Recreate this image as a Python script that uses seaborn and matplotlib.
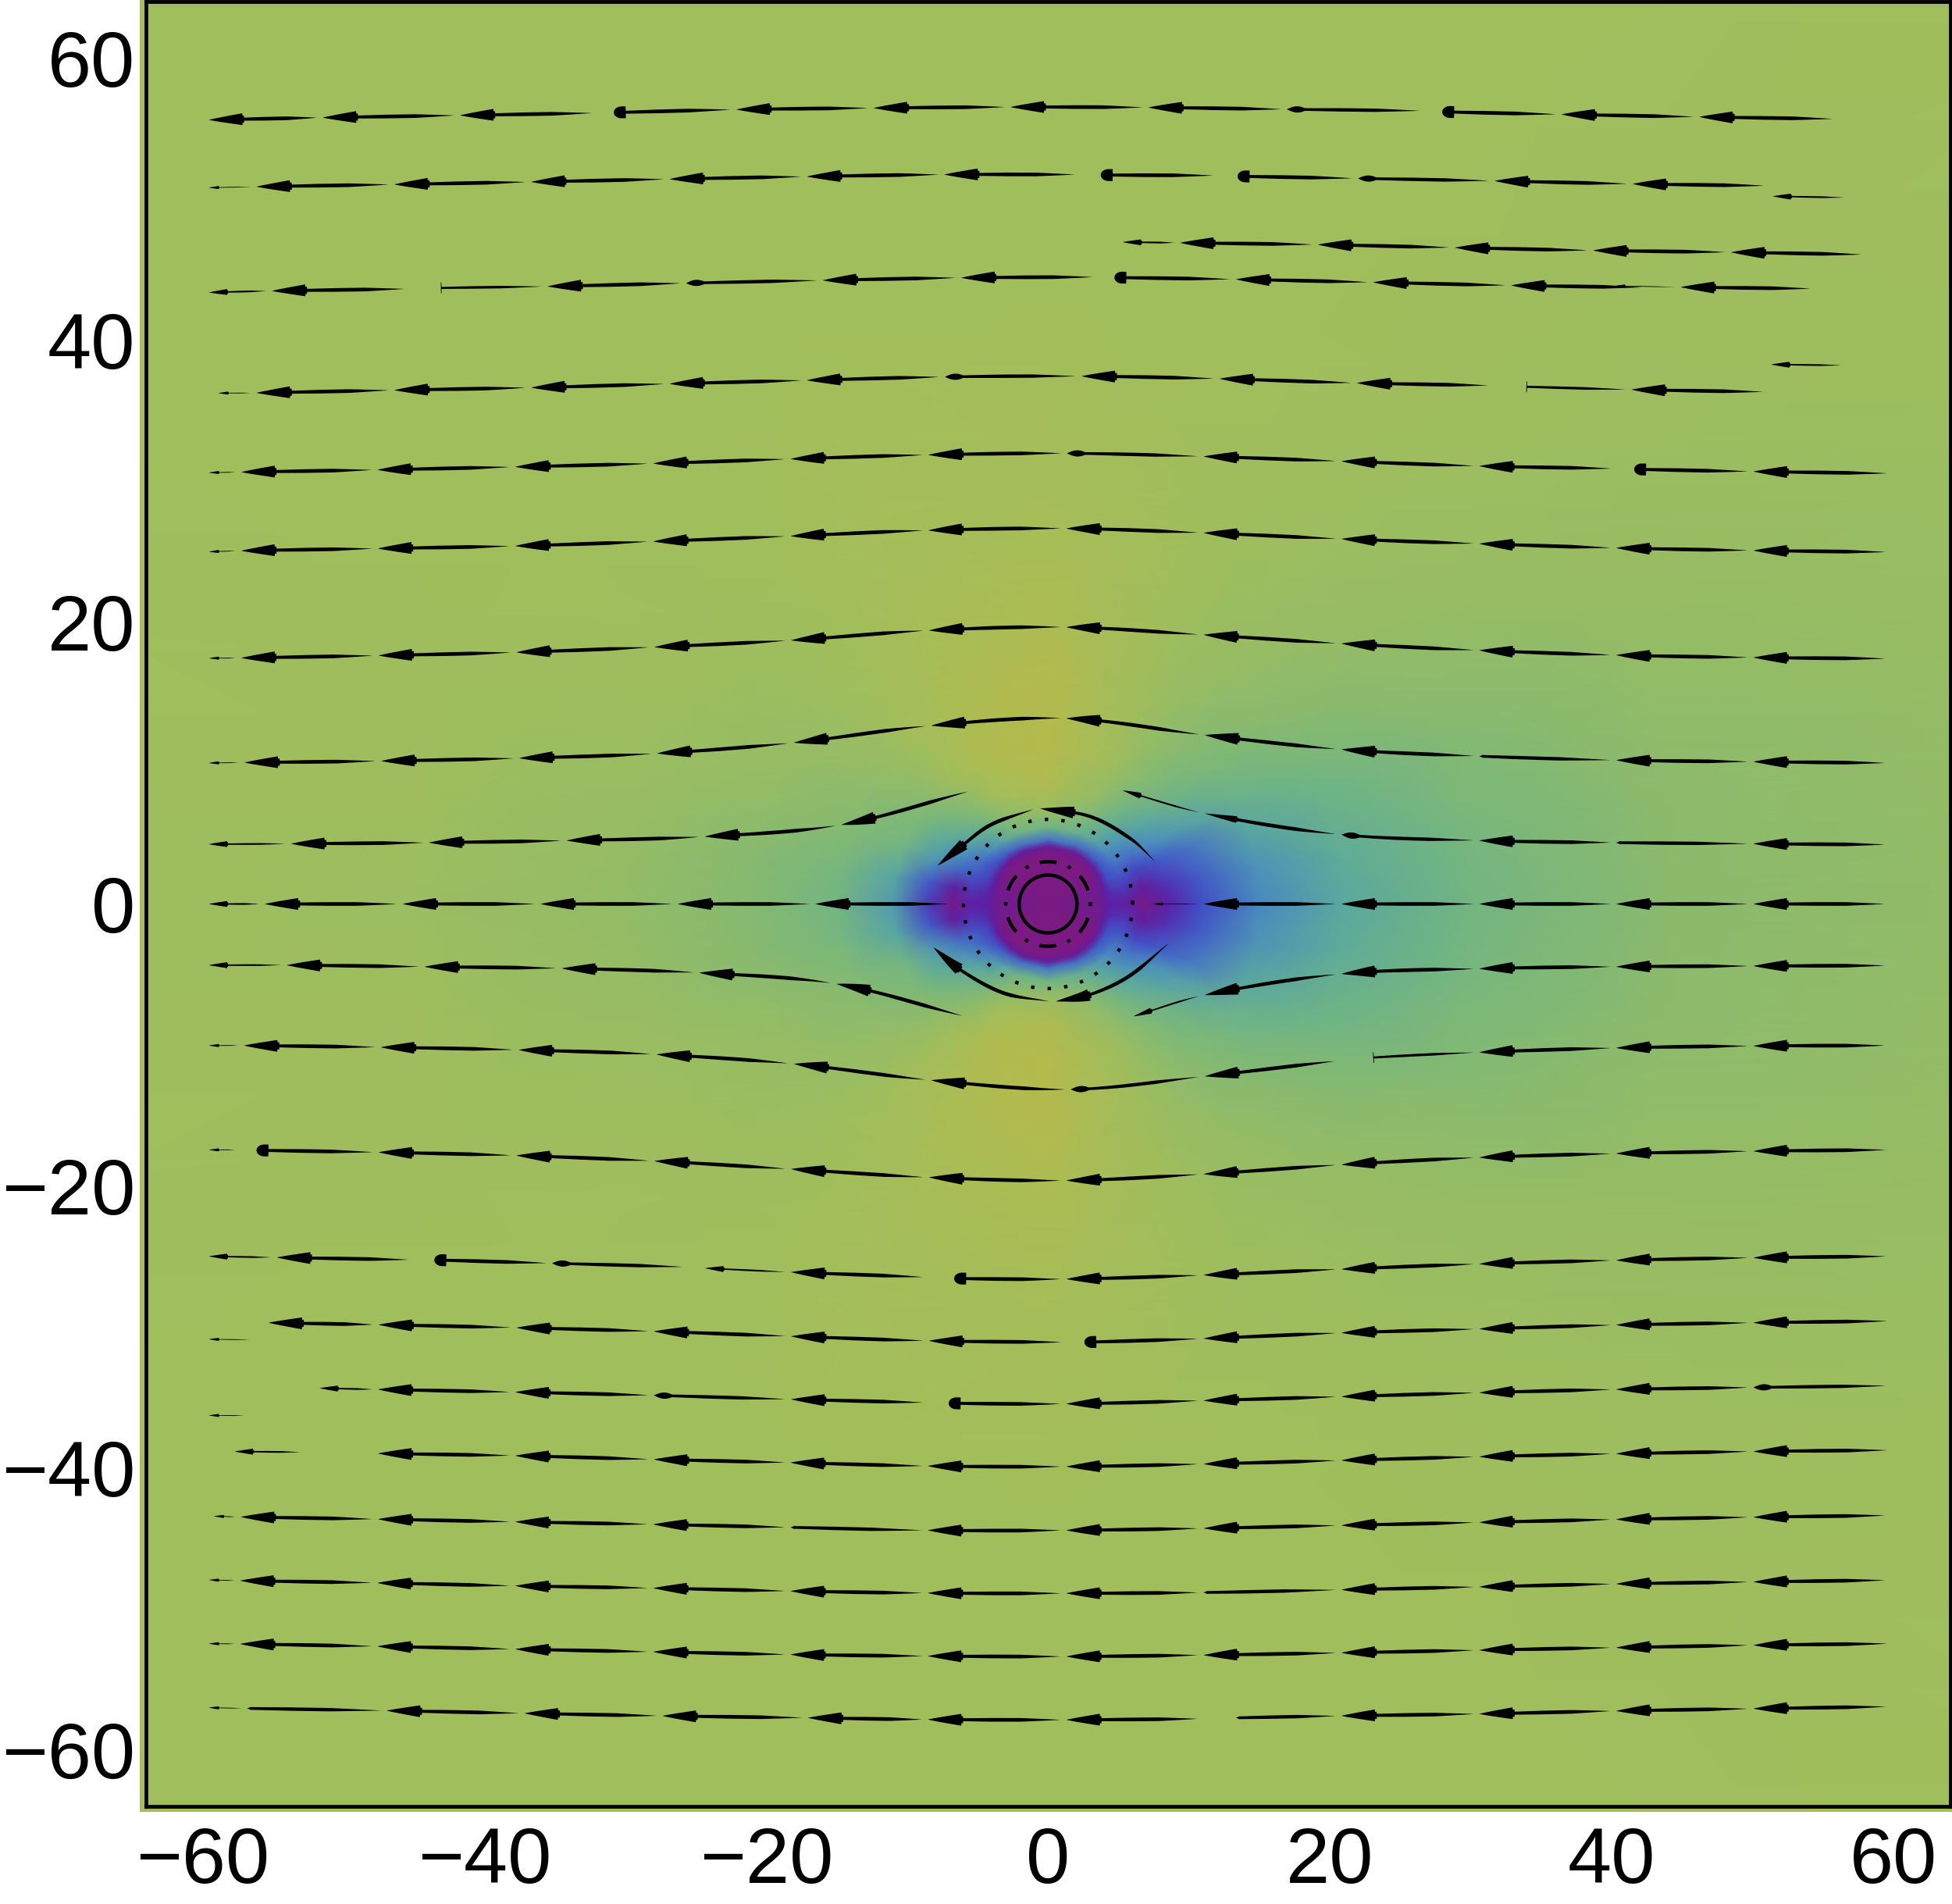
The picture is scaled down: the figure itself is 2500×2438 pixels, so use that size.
import numpy as np
import matplotlib
matplotlib.use("Agg")
import matplotlib.pyplot as plt
from matplotlib.patches import Rectangle
import seaborn as sns

# ---------------- background field (polar knots) ----------------
field_r = [0, 3.6, 4.1, 4.6, 5.5, 6.8, 8.5, 11, 15, 21, 30, 45, 95]
field_theta = [0, 10, 22, 30, 40, 52, 65, 90, 115, 128, 140, 148, 158, 170, 180]
field_000 = [0, .05, .12, .14, .12, .03, .14, .28, .42, .56, .68, .77, .84]
field_010 = [0, .05, .12, .18, .20, .10, .20, .31, .46, .59, .70, .78, .84]
field_022 = [0, .03, .13, .27, .30, .26, .31, .38, .56, .66, .74, .80, .85]
field_030 = [0, .01, .10, .29, .36, .36, .43, .52, .64, .72, .78, .82, .85]
field_040 = [0, .00, .08, .30, .42, .46, .55, .65, .72, .77, .81, .83, .85]
field_052 = [0, .00, .08, .33, .52, .60, .68, .75, .78, .81, .83, .84, .85]
field_065 = [0, .00, .08, .36, .62, .74, .80, .84, .84, .84, .84, .85, .85]
field_090 = [0, .00, .10, .38, .68, .84, .92, .96, .95, .91, .87, .85, .85]
field_115 = [0, .00, .10, .36, .66, .78, .86, .92, .91, .88, .86, .85, .85]
field_128 = [0, .00, .09, .32, .52, .66, .76, .84, .86, .85, .85, .85, .85]
field_140 = [0, .00, .08, .28, .40, .55, .66, .76, .81, .83, .84, .85, .85]
field_148 = [0, .01, .10, .25, .34, .45, .57, .72, .78, .82, .84, .85, .85]
field_158 = [0, .03, .13, .24, .30, .35, .48, .68, .75, .80, .83, .84, .85]
field_170 = [0, .05, .12, .17, .20, .12, .30, .54, .70, .76, .81, .84, .85]
field_180 = [0, .05, .12, .14, .12, .03, .22, .50, .68, .75, .80, .83, .85]
field_colors = ["#7a1a82", "#5c1fa6", "#4052c8", "#4a8cc0", "#5caa9c",
                "#7ab87a", "#a3be5b", "#bcb846"]

# ---------------- streamline rows: knots ----------------
# kinds: a arrow, s small arrow, t tiny arrow, d blunt dot, e lens, b bar, n plain,
#        p pass-through knot, x tail end
row_a_x = [-59.54, -51.46, -41.72, -32.40, -30.81, -22.11, -12.37, -2.66, 7.12, 16.94, 26.37, 27.97, 36.43, 46.21, 55.64]
row_a_y = [55.61, 55.77, 55.93, 56.09, 56.13, 56.34, 56.45, 56.52, 56.49, 56.36, 56.25, 56.18, 56.0, 55.82, 55.68]
row_a_k = "aaaxdaaaaexdaax"
row_b_x = [-59.54, -56.16, -46.38, -36.67, -26.85, -17.11, -7.36, 1.88, 3.74, 11.70, 13.45, 21.99, 31.69, 41.47, 50.79]
row_b_y = [50.80, 50.87, 51.03, 51.21, 51.41, 51.59, 51.73, 51.73, 51.70, 51.66, 51.61, 51.46, 51.28, 51.07, 50.94]
row_b_k = "taaaaaaxdxdeaax"
row_b2_x = [51.41, 56.46]
row_b2_y = [50.19, 50.10]
row_b2_k = "sx"
row_c_x = [5.30, 9.37, 19.15, 28.86, 38.68, 48.46, 57.70]
row_c_y = [46.94, 46.89, 46.76, 46.55, 46.35, 46.22, 46.06]
row_c_k = "saaaaax"
row_d_x = [-59.54, -55.07, -45.68, -43.08, -35.51, -25.68, -15.98, -6.16, 3.16, 4.71, 13.33, 23.07, 32.86, 42.10]
row_d_y = [43.37, 43.48, 43.62, 43.69, 43.80, 44.03, 44.23, 44.41, 44.46, 44.43, 44.30, 44.09, 43.87, 43.73]
row_d_k = "saxbaeaaxdaaax"
row_d2_x = [40.23, 44.89, 54.09]
row_d2_y = [43.84, 43.75, 43.64]
row_d2_k = "tax"
row_e_x = [-58.87, -56.16, -46.38, -36.67, -26.85, -17.11, -7.32, 2.38, 12.17, 21.91, 31.19, 33.94, 41.40, 50.71]
row_e_y = [36.23, 36.25, 36.44, 36.62, 36.89, 37.14, 37.38, 37.43, 37.25, 36.95, 36.77, 36.68, 36.48, 36.32]
row_e_k = "taaaaaeaaaxbax"
row_e2_x = [51.30, 56.27]
row_e2_y = [38.26, 38.20]
row_e2_k = "sx"
row_f_x = [-59.54, -57.24, -47.58, -37.80, -28.01, -18.27, -8.49, 1.34, 11.04, 20.82, 30.60, 39.92, 41.59, 50.06, 59.53]
row_f_y = [30.59, 30.63, 30.79, 31.00, 31.24, 31.56, 31.85, 31.96, 31.74, 31.40, 31.06, 30.88, 30.83, 30.67, 30.54]
row_f_k = "taaaaaaeaaaxdax"
row_g_x = [-59.54, -57.24, -47.54, -37.80, -28.01, -18.27, -8.49, 1.30, 11.04, 20.82, 30.60, 40.31, 50.05, 59.45]
row_g_y = [24.98, 25.05, 25.21, 25.39, 25.71, 26.09, 26.50, 26.63, 26.32, 25.89, 25.55, 25.25, 25.07, 24.96]
row_g_k = "taaaaaaaaaaaax"
row_h_x = [-59.54, -57.24, -47.50, -37.72, -27.93, -18.23, -8.45, 1.30, 11.04, 20.82, 30.60, 40.31, 50.05, 59.37]
row_h_y = [17.43, 17.45, 17.62, 17.85, 18.22, 18.70, 19.40, 19.63, 19.09, 18.47, 17.99, 17.65, 17.48, 17.40]
row_h_k = "taaaaaaaaaaaax"
row_i_x = [-59.54, -57.01, -47.31, -37.52, -27.74, -18.04, -8.29, 1.30, 11.12, 20.82, 30.60, 40.31, 50.05, 59.37]
row_i_y = [10.00, 10.03, 10.14, 10.34, 10.68, 11.44, 12.65, 13.16, 11.98, 10.96, 10.48, 10.20, 10.09, 10.00]
row_i_k = "taaaaaaaaanaax"
row_j_x = [-59.54, -53.71, -43.93, -34.15, -24.36, -14.66, -5.69]
row_j_y = [4.24, 4.27, 4.35, 4.50, 4.78, 5.62, 7.97]
row_j_k = "saaaaax"
row_j2_x = [5.30, 11.12, 20.82, 30.60, 40.31, 50.05, 59.37]
row_j2_y = [8.05, 6.42, 4.92, 4.50, 4.35, 4.27, 4.21]
row_j2_k = "sgeanax"
row_k_x = [-59.54, -55.58, -45.79, -36.01, -26.27, -16.52, -7.05]
row_k_y = [0, 0, 0, 0, 0, 0, 0]
row_k_k = "saaaaax"
row_k2_x = [7.43, 11.04, 20.82, 30.60, 40.31, 50.05, 59.37]
row_k2_y = [0, 0, 0, 0, 0, 0, 0]
row_k2_k = "taaaaax"
row_l_x = [-59.54, -54.02, -44.24, -34.50, -24.75, -15.01, -6.08]
row_l_y = [-4.34, -4.34, -4.45, -4.57, -4.88, -5.67, -7.93]
row_l_k = "saaaaax"
row_l2_x = [6.07, 11.12, 20.82, 30.60, 40.31, 50.05, 59.37]
row_l2_y = [-7.96, -6.46, -4.96, -4.59, -4.45, -4.40, -4.37]
row_l2_k = "saaaaax"
row_m_x = [-59.54, -57.05, -47.34, -37.56, -27.78, -18.04, -8.29, 1.61, 11.12, 20.32, 23.07, 30.60, 40.31, 50.05, 59.37]
row_m_y = [-10.04, -10.04, -10.16, -10.35, -10.67, -11.34, -12.50, -13.15, -12.22, -11.15, -10.89, -10.52, -10.21, -10.07, -10.04]
row_m_k = "taaaaaaeaxbaaax"
row_n_x = [-59.54, -57.71, -56.16, -47.50, -37.72, -27.93, -18.23, -8.45, 1.30, 11.04, 20.82, 30.60, 40.31, 50.05, 59.45]
row_n_y = [-17.44, -17.44, -17.47, -17.61, -17.84, -18.23, -18.80, -19.39, -19.61, -19.16, -18.49, -17.98, -17.70, -17.53, -17.44]
row_n_k = "txdaaaaaaaaaaax"
row_o_x = [-59.54, -54.72, -45.40, -43.54, -35.19, -25.96, -24.33, -18.23, -8.91, -6.66, 1.30, 11.04, 20.82, 30.60, 40.31, 50.05, 59.45]
row_o_y = [-24.99, -25.07, -25.23, -25.25, -25.48, -25.74, -25.83, -26.11, -26.46, -26.56, -26.60, -26.32, -25.90, -25.53, -25.27, -25.09, -24.99]
row_o_k = "saxdexsaxdaaaaaax"
row_p_x = [-55.30, -47.50, -37.72, -27.97, -18.23, -8.45, 0.95, 2.58, 11.04, 20.82, 30.60, 40.31, 50.05, 59.53]
row_p_y = [-29.70, -29.84, -30.05, -30.31, -30.66, -30.98, -31.08, -31.08, -30.82, -30.42, -30.14, -29.86, -29.70, -29.58]
row_p_k = "aaaaaaxdaaaaax"
row_p2_x = [-59.54, -56.66]
row_p2_y = [-30.87, -30.91]
row_p2_k = "tx"
row_q_x = [-51.69, -47.54, -37.80, -27.97, -18.23, -8.91, -7.05, 1.30, 11.04, 20.82, 30.60, 40.31, 50.05, 59.45]
row_q_y = [-34.34, -34.43, -34.62, -34.85, -35.13, -35.36, -35.41, -35.45, -35.22, -34.94, -34.66, -34.43, -34.29, -34.17]
row_q_k = "saaeaxdaaaaaex"
row_q2_x = [-59.54, -57.01]
row_q2_y = [-36.27, -36.29]
row_q2_k = "tx"
row_r_x = [-57.71, -53.09, -47.54, -37.80, -27.97, -18.27, -8.53, 1.30, 11.04, 20.82, 30.60, 40.31, 50.05, 59.53]
row_r_y = [-38.83, -38.88, -38.97, -39.13, -39.39, -39.62, -39.86, -39.90, -39.72, -39.46, -39.20, -38.99, -38.83, -38.74]
row_r_k = "sxaaaaaaaaaaax"
row_s_x = [-59.19, -57.28, -47.54, -37.80, -28.01, -18.27, -8.53, 1.30, 11.04, 20.82, 30.60, 40.31, 50.05, 59.37]
row_s_y = [-43.42, -43.47, -43.63, -43.82, -44.00, -44.21, -44.42, -44.42, -44.28, -44.07, -43.86, -43.65, -43.49, -43.37]
row_s_k = "taaaanaaaaaaax"
row_t_x = [-59.54, -57.32, -47.58, -37.80, -28.01, -18.27, -8.53, 1.30, 11.04, 20.82, 30.60, 40.31, 50.05, 59.37]
row_t_y = [-47.94, -47.99, -48.15, -48.36, -48.52, -48.73, -48.87, -48.89, -48.83, -48.64, -48.43, -48.22, -48.08, -47.96]
row_t_k = "taaaaaaanaaaax"
row_u_x = [-59.54, -57.32, -47.58, -37.80, -28.01, -18.27, -8.53, 1.30, 11.04, 20.82, 30.60, 40.31, 50.05, 59.53]
row_u_y = [-52.46, -52.48, -52.65, -52.85, -53.04, -53.23, -53.34, -53.37, -53.27, -53.11, -52.92, -52.74, -52.57, -52.46]
row_u_k = "taaaaaaaaaaaax"
row_v_x = [-59.54, -56.82, -46.92, -37.14, -27.35, -17.03, -8.53, 1.30, 10.61, 13.33, 20.82, 30.60, 40.31, 50.05, 59.45]
row_v_y = [-57.00, -57.05, -57.21, -57.40, -57.58, -57.72, -57.84, -57.86, -57.79, -57.72, -57.58, -57.44, -57.23, -57.07, -56.93]
row_v_k = "tnaaaaaaxnaaaax"
# arcs around the centre
arc_ur_x = [-0.55, 3.0, 5.9, 7.61]
arc_ur_y = [6.78, 6.2, 4.6, 3.0]
arc_ur_k = "appx"
arc_ul_x = [-7.83, -6.35, -4.13, -1.04]
arc_ul_y = [2.72, 3.92, 5.58, 6.72]
arc_ul_k = "appx"
arc_lr_x = [0.57, 3.03, 5.75, 8.59]
arc_lr_y = [-6.91, -6.41, -5.12, -2.76]
arc_lr_k = "appx"
arc_ll_x = [-8.13, -6.10, -3.14, 0.07]
arc_ll_y = [-3.09, -4.75, -6.32, -6.91]
arc_ll_k = "appx"

rows = [
    (row_a_x, row_a_y, row_a_k), (row_b_x, row_b_y, row_b_k), (row_b2_x, row_b2_y, row_b2_k),
    (row_c_x, row_c_y, row_c_k), (row_d_x, row_d_y, row_d_k), (row_d2_x, row_d2_y, row_d2_k),
    (row_e_x, row_e_y, row_e_k), (row_e2_x, row_e2_y, row_e2_k), (row_f_x, row_f_y, row_f_k),
    (row_g_x, row_g_y, row_g_k), (row_h_x, row_h_y, row_h_k), (row_i_x, row_i_y, row_i_k),
    (row_j_x, row_j_y, row_j_k), (row_j2_x, row_j2_y, row_j2_k), (row_k_x, row_k_y, row_k_k),
    (row_k2_x, row_k2_y, row_k2_k), (row_l_x, row_l_y, row_l_k), (row_l2_x, row_l2_y, row_l2_k),
    (row_m_x, row_m_y, row_m_k), (row_n_x, row_n_y, row_n_k), (row_o_x, row_o_y, row_o_k),
    (row_p_x, row_p_y, row_p_k), (row_p2_x, row_p2_y, row_p2_k), (row_q_x, row_q_y, row_q_k),
    (row_q2_x, row_q2_y, row_q2_k), (row_r_x, row_r_y, row_r_k), (row_s_x, row_s_y, row_s_k),
    (row_t_x, row_t_y, row_t_k), (row_u_x, row_u_y, row_u_k), (row_v_x, row_v_y, row_v_k),
    (arc_ur_x, arc_ur_y, arc_ur_k), (arc_ul_x, arc_ul_y, arc_ul_k),
    (arc_lr_x, arc_lr_y, arc_lr_k), (arc_ll_x, arc_ll_y, arc_ll_k),
]

circle_radii = [2.05, 3.0, 6.0]
tick_major = [-60, -40, -20, 0, 20, 40, 60]
tick_labels = ["\u221260", "\u221240", "\u221220", "0", "20", "40", "60"]
tick_minor = list(range(-60, 61, 5))

# ---------------- figure ----------------
sns.set_theme(style="white")
plt.rcParams["font.family"] = ["Liberation Sans", "DejaVu Sans"]
W, H, DPI = 2500, 2438, 200
fig = plt.figure(figsize=(W / DPI, H / DPI), dpi=DPI, facecolor="white")
fig.add_artist(Rectangle((179 / W, 1 - 2320 / H), (W - 179) / W, 2320 / H, transform=fig.transFigure,
                         facecolor="#a3be5b", edgecolor="none", zorder=-5))
ax = fig.add_axes([187 / W, 1 - 2313 / H, (2497.5 - 187) / W, (2313 - 2) / H])
ax.set_xlim(-64, 64)
ax.set_ylim(-64, 64)

# background
cmap = sns.blend_palette(field_colors, n_colors=256, as_cmap=True)
half = np.array([field_000, field_010, field_022, field_030, field_040, field_052, field_065, field_090,
                 field_115, field_128, field_140, field_148, field_158, field_170, field_180])
Z = np.vstack([half, half[-2::-1]])
th = np.radians(np.r_[field_theta, 360 - np.array(field_theta[-2::-1])])
R, TH = np.meshgrid(field_r, th)
ax.pcolormesh(R * np.cos(TH), R * np.sin(TH), Z, shading="gouraud", cmap=cmap, vmin=0, vmax=1, zorder=1)

# tapered arrows
STY = {  # head length, head half width, shaft half width
    "a": (2.38, .42, .13), "s": (1.3, .21, .06), "t": (.7, .11, .025), "g": (2.3, .24, .13),
    "d": (.85, .42, .13), "e": (1.5, .22, .12), "b": (.05, .38, .09), "n": (.3, .12, .12),
}


def hermite_path(xs, ys, i, j, n=30):
    p = np.column_stack([xs, ys]).astype(float)
    s = np.r_[0, np.cumsum(np.hypot(*np.diff(p, axis=0).T))]
    m = np.zeros_like(p)
    m[1:-1] = (p[2:] - p[:-2]) / (s[2:] - s[:-2])[:, None]
    m[0] = (p[1] - p[0]) / (s[1] - s[0])
    m[-1] = (p[-1] - p[-2]) / (s[-1] - s[-2])
    out = []
    for k in range(i, j):
        t = np.linspace(0, 1, n)[:, None]
        h = s[k + 1] - s[k]
        c = ((2 * t**3 - 3 * t**2 + 1) * p[k] + (t**3 - 2 * t**2 + t) * h * m[k]
             + (-2 * t**3 + 3 * t**2) * p[k + 1] + (t**3 - t**2) * h * m[k + 1])
        out.append(c if k == j - 1 else c[:-1])
    return np.vstack(out)


def half_width(kind, u, L):
    hl, hw, sw = STY[kind]
    f = np.clip((u - hl) / max(L - hl, 1e-6), 0, 1)
    shaft = sw * np.minimum(1, (1 - f) / 0.4) ** 0.9 * (0.8 + 0.2 * np.minimum(1, f / 0.3))
    if kind in "astg":
        head = hw * np.clip(u / hl, 0, 1) ** 0.9
        w = np.where(u < hl, head, shaft)
        w = np.where((u >= hl) & (u < hl * 1.05), hw * .6 + 0 * u, w)
    elif kind == "d":
        cap = hw * np.sqrt(np.clip(1 - (1 - u / .55) ** 2, 0, 1))
        w = np.where(u < .55, cap, np.where(u < hl, hw, shaft))
    elif kind == "e":
        w = np.maximum(hw * np.sin(np.pi * np.clip(u / hl, 0, 1)), np.where(u > .3, shaft, 0))
    elif kind == "b":
        w = np.where(u < hl, hw, shaft)
    else:
        w = np.where(u < hl, sw * u / hl, shaft)
    return w


def draw_row(xs, ys, kinds):
    i = 0
    n = len(xs)
    while i < n - 1:
        kd = kinds[i]
        if kd in "xp":
            i += 1
            continue
        j = i + 1
        while kinds[j] == "p":
            j += 1
        path = hermite_path(xs, ys, i, j)
        seg = np.r_[0, np.cumsum(np.hypot(*np.diff(path, axis=0).T))]
        L = seg[-1] - (0 if kinds[j] == "x" else 0.42)
        hl = STY[kd][0]
        u = np.unique(np.r_[np.linspace(0, L, 500), hl, hl + 1e-3])
        u = u[u <= L]
        px = np.interp(u, seg, path[:, 0])
        py = np.interp(u, seg, path[:, 1])
        dx, dy = np.gradient(px, u), np.gradient(py, u)
        nn = np.hypot(dx, dy)
        nx, ny = -dy / nn, dx / nn
        w = half_width(kd, u, L)
        ax.fill(np.r_[px + nx * w, (px - nx * w)[::-1]], np.r_[py + ny * w, (py - ny * w)[::-1]],
                color="black", lw=0, zorder=4)
        i = j


for rx, ry, rk in rows:
    draw_row(rx, ry, rk)

# reference circles
ang = np.linspace(0, 2 * np.pi, 721)
line_styles = [
    dict(linestyle="-"),
    dict(linestyle=(0.5, (1, 3.5, 4.9, 3.5)), dash_capstyle="butt"),
    dict(linestyle=(0, (1, 3.84)), dash_capstyle="butt"),
]
for rad, st in zip(circle_radii, line_styles):
    sns.lineplot(x=rad * np.cos(ang), y=rad * np.sin(ang), sort=False, estimator=None, color="black",
                 lw=1.58, ax=ax, zorder=5, legend=False, **st)

# frame and ticks
ax.set_xticks(tick_major)
ax.set_xticklabels(tick_labels)
ax.set_yticks(tick_major)
ax.set_yticklabels(tick_labels)
ax.set_xticks(tick_minor, minor=True)
ax.set_yticks(tick_minor, minor=True)
tick_col = "#2c3618"
ax.tick_params(which="major", direction="in", length=15 / DPI * 72, width=0.45, color=tick_col,
               top=True, right=True, bottom=True, left=True, labelsize=36.3, labelcolor="black")
ax.tick_params(axis="x", which="major", pad=9)
ax.tick_params(axis="y", which="major", pad=5)
ax.tick_params(which="minor", direction="in", length=8 / DPI * 72, width=0.45, color=tick_col,
               top=True, right=True, bottom=True, left=True)
for spine in ax.spines.values():
    spine.set_visible(True)
    spine.set_color("black")
    spine.set_linewidth(4.8 / DPI * 72)
    spine.set_zorder(10)
ax.set_xlabel("")
ax.set_ylabel("")
ax.grid(False)
fig.savefig("out.png", dpi=DPI, facecolor="white")
